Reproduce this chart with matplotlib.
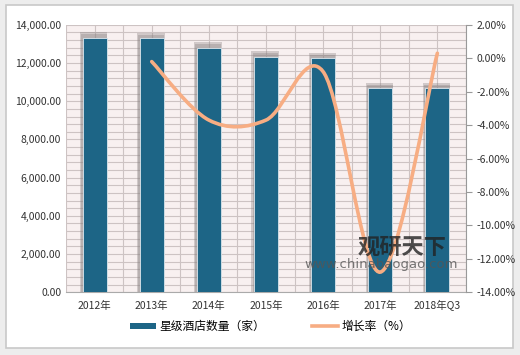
import matplotlib
matplotlib.use("Agg")
import matplotlib.pyplot as plt
import matplotlib.patches as mpatches
from matplotlib.lines import Line2D
from matplotlib.path import Path
from matplotlib.ticker import FuncFormatter, MultipleLocator
import numpy as np

plt.rcParams["font.family"] = ["Noto Sans CJK SC", "DejaVu Sans"]

# ---------------------------------------------------------------------------
# Data
# ---------------------------------------------------------------------------
years = ["2012年", "2013年", "2014年", "2015年", "2016年", "2017年", "2018年Q3"]
hotels = [13320, 13293, 12803, 12327, 12250, 10680, 10680]
growth_years = ["2013年", "2014年", "2015年", "2016年", "2017年", "2018年Q3"]
growth = [-0.2, -3.7, -3.7, -0.8, -12.8, 0.3]

BLUE = "#1D6586"
ORANGE = "#F7AD83"
GRID = "#CDC3C3"
TICK_COLOR = "#333333"


def smooth_path(xs, ys):
    """Excel-style smoothed line as cubic Bezier segments."""
    pts = np.column_stack([xs, ys]).astype(float)
    n = len(pts)
    verts = [pts[0]]
    codes = [Path.MOVETO]
    for i in range(n - 1):
        p0 = pts[i - 1] if i > 0 else pts[i]
        p1 = pts[i]
        p2 = pts[i + 1]
        p3 = pts[i + 2] if i + 2 < n else pts[i + 1]
        c1 = p1 + (p2 - p0) / 6.0
        c2 = p2 - (p3 - p1) / 6.0
        verts += [c1, c2, p2]
        codes += [Path.CURVE4] * 3
    return Path(verts, codes)


fig = plt.figure(figsize=(5.2, 3.55), dpi=100)
fig.patch.set_facecolor("#EDEDED")
fig.patches.append(mpatches.Rectangle((0.012, 0.02), 0.975, 0.965, transform=fig.transFigure,
                                      facecolor="white", edgecolor="#C8C8C8", linewidth=1.2,
                                      zorder=-10))

ax = fig.add_axes([0.127, 0.177, 0.769, 0.753])
ax.set_facecolor("#F8F0F0")
x = np.arange(len(years))
w = 0.42

# soft shadow behind bars
ax.bar(x - 0.015, [v + 280 for v in hotels], w + 0.06, color="#8A8282", alpha=0.35, zorder=2)
ax.bar(x - 0.01, [v + 180 for v in hotels], w + 0.03, color="#8A8282", alpha=0.35, zorder=2)
ax.bar(x, hotels, w, color=BLUE, edgecolor="#DDE8EE", linewidth=0.6, zorder=3)

ax.set_xlim(-0.5, len(years) - 0.5)
ax.set_ylim(0, 14000)
ax.set_xticks(x)
ax.set_xticklabels(years)
ax.xaxis.set_minor_locator(MultipleLocator(0.5))
ax.yaxis.set_major_locator(MultipleLocator(2000))
ax.yaxis.set_minor_locator(MultipleLocator(400))
ax.yaxis.set_major_formatter(FuncFormatter(lambda v, p: f"{v:,.2f}"))
ax.grid(True, which="both", color=GRID, linewidth=0.8, zorder=0)
ax.set_axisbelow(True)
ax.tick_params(axis="both", which="both", length=0, labelsize=7.5, colors=TICK_COLOR)
ax.tick_params(axis="x", pad=6)
for s in ["top", "right", "left"]:
    ax.spines[s].set_visible(False)
ax.spines["bottom"].set_color("#AAAAAA")

ax2 = ax.twinx()
ax2.set_ylim(-14, 2)
ax2.yaxis.set_major_locator(MultipleLocator(2))
ax2.yaxis.set_major_formatter(FuncFormatter(lambda v, p: f"{v:.2f}%"))
ax2.tick_params(axis="y", length=4, color="#999999", labelsize=7.5, colors=TICK_COLOR)
for s in ["top", "left", "bottom"]:
    ax2.spines[s].set_visible(False)
ax2.spines["right"].set_color("#999999")

gx = [years.index(g) for g in growth_years]
ax2.add_patch(mpatches.PathPatch(smooth_path(gx, growth), facecolor="none",
                                 edgecolor=ORANGE, linewidth=2.6, capstyle="round", zorder=4))

# watermark
fig.text(0.773, 0.304, "观研天下", fontsize=16, fontweight="bold", color="#222222", alpha=0.8,
         ha="center", va="center")
fig.text(0.733, 0.254, "www.chinabaogao.com", fontsize=9.5, color="#555555", alpha=0.8,
         ha="center", va="center", family=["DejaVu Sans"])

handles = [
    mpatches.Patch(facecolor=BLUE, label="星级酒店数量（家）"),
    Line2D([0], [0], color=ORANGE, linewidth=2.6, label="增长率（%）"),
]
fig.legend(handles=handles, loc="center", bbox_to_anchor=(0.52, 0.08), ncol=2, frameon=False,
           fontsize=8.5, handlelength=2.2, handleheight=0.5, columnspacing=4, handletextpad=0.3)

plt.savefig("out.png", dpi=100)
plt.close()
